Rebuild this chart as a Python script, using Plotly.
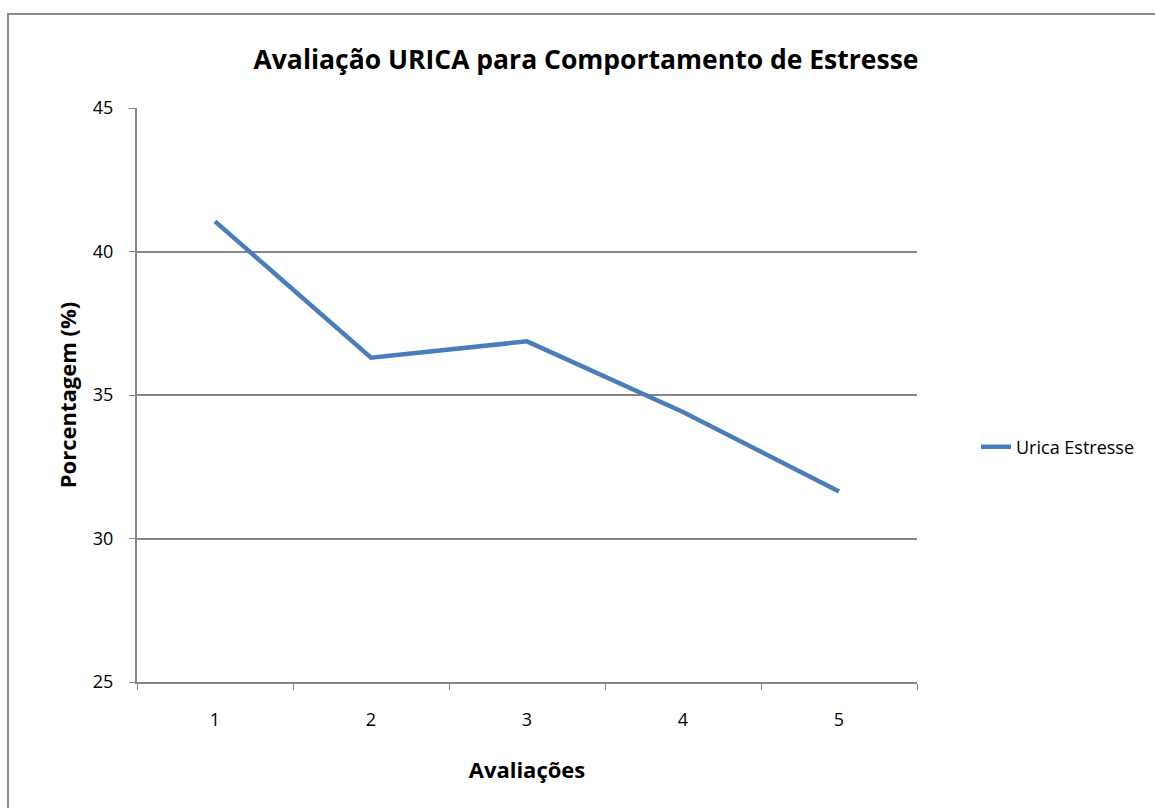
import plotly.graph_objects as go

# Avaliações (assessment rounds) and the stress-behaviour URICA percentages
avaliacoes = ["1", "2", "3", "4", "5"]
urica_estresse = [41.05, 36.3, 36.87, 34.41, 31.64]

y_ticks = [25, 30, 35, 40, 45]

axis_grey = "#868686"
line_blue = "#4A7EBB"
font_family = "Open Sans, Calibri, Carlito, sans-serif"

fig = go.Figure()
fig.add_trace(go.Scatter(
    x=avaliacoes,
    y=urica_estresse,
    mode="lines",
    name="Urica Estresse",
    line=dict(color=line_blue, width=4.5),
))

fig.update_layout(
    width=1155,
    height=808,
    paper_bgcolor="white",
    plot_bgcolor="white",
    margin=dict(l=137, r=238, t=108, b=126),
    font=dict(family=font_family, size=18, color="black"),
    title=dict(
        text="<b>Avaliação URICA para Comportamento de Estresse</b>",
        x=(586 - 137) / 780,
        xref="paper",
        xanchor="center",
        y=1 - 60 / 808,
        yanchor="middle",
        font=dict(size=26.5, family=font_family, color="black"),
    ),
    showlegend=True,
    legend=dict(
        x=(976 - 137) / 780,
        xanchor="left",
        y=(682 - 447) / 574,
        yanchor="middle",
        font=dict(size=18, family=font_family),
        bgcolor="rgba(0,0,0,0)",
    ),
    xaxis=dict(
        type="category",
        range=[-0.5, 4.5],
        tickson="boundaries",
        ticks="outside",
        ticklen=6,
        tickcolor=axis_grey,
        showline=True,
        linecolor=axis_grey,
        linewidth=2,
        showgrid=False,
        zeroline=False,
        ticklabelstandoff=20,
        title=dict(text="<b>Avaliações</b>", font=dict(size=22), standoff=33),
        tickfont=dict(size=18),
    ),
    yaxis=dict(
        range=[25, 45],
        tickvals=y_ticks,
        ticks="outside",
        ticklen=6,
        tickcolor=axis_grey,
        showline=True,
        linecolor=axis_grey,
        linewidth=2,
        showgrid=True,
        gridcolor=axis_grey,
        gridwidth=1.5,
        zeroline=False,
        ticklabelstandoff=12,
        title=dict(text="<b>Porcentagem (%)</b>", font=dict(size=22), standoff=10),
        tickfont=dict(size=18),
    ),
    shapes=[
        dict(
            type="rect",
            xref="paper",
            yref="paper",
            x0=(8 - 137) / 780,
            x1=(1200 - 137) / 780,
            y0=(682 - 860) / 574,
            y1=1 + (108 - 14) / 574,
            line=dict(color="#8C8C8C", width=2),
            fillcolor="rgba(0,0,0,0)",
            layer="below",
        )
    ],
)

fig.write_html("out.html")
